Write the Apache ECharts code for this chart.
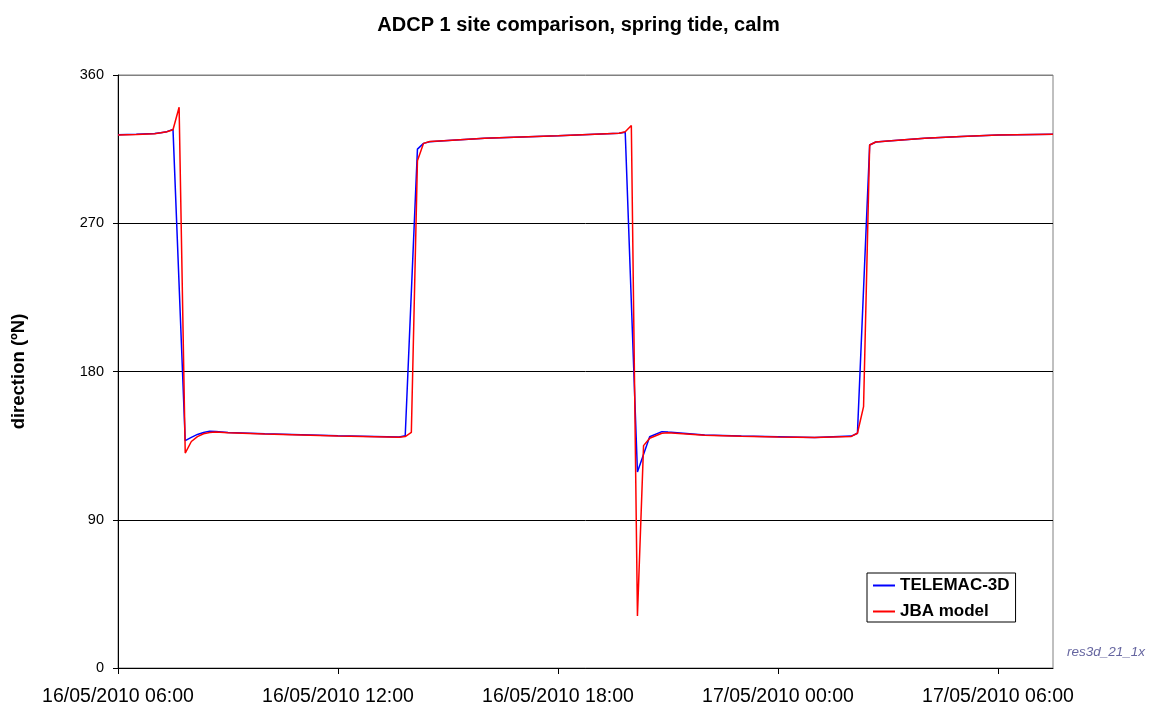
<!DOCTYPE html>
<html>
<head>
<meta charset="utf-8">
<title>ADCP 1 site comparison</title>
<script src="https://cdn.jsdelivr.net/npm/echarts@6/dist/echarts.min.js"></script>
<style>
  html, body { margin: 0; padding: 0; background: #fff; }
  #chart { width: 1157px; height: 711px; }
</style>
</head>
<body>
<div id="chart"></div>
<script>
// time of each reading (local clock) and direction in degrees N
var startTime = '2010-05-16 06:00';
var xTicks = [0, 6, 12, 18, 24]; // hours after start

var telemacTimes = [
  '2010-05-16 06:00', '2010-05-16 06:30', '2010-05-16 07:00', '2010-05-16 07:10', '2010-05-16 07:20',
  '2010-05-16 07:30', '2010-05-16 07:50', '2010-05-16 08:00', '2010-05-16 08:10', '2010-05-16 08:20',
  '2010-05-16 08:30', '2010-05-16 08:40', '2010-05-16 09:00', '2010-05-16 10:00', '2010-05-16 11:00',
  '2010-05-16 12:00', '2010-05-16 13:00', '2010-05-16 13:40', '2010-05-16 13:50', '2010-05-16 14:10',
  '2010-05-16 14:20', '2010-05-16 14:30', '2010-05-16 15:00', '2010-05-16 16:00', '2010-05-16 17:00',
  '2010-05-16 18:00', '2010-05-16 19:00', '2010-05-16 19:40', '2010-05-16 19:50', '2010-05-16 20:10',
  '2010-05-16 20:30', '2010-05-16 20:50', '2010-05-16 21:00', '2010-05-16 22:00', '2010-05-16 23:00',
  '2010-05-17 00:00', '2010-05-17 01:00', '2010-05-17 02:00', '2010-05-17 02:10', '2010-05-17 02:30',
  '2010-05-17 02:40', '2010-05-17 03:00', '2010-05-17 04:00', '2010-05-17 05:00', '2010-05-17 06:00',
  '2010-05-17 07:00', '2010-05-17 07:30'
];
var telemacDir = [
  323.8, 324.0, 324.5, 325.0, 325.6,
  327.0, 138.0, 140.0, 141.8, 143.0,
  143.8, 143.6, 143.0, 142.2, 141.6,
  141.0, 140.5, 140.2, 141.0, 315.0,
  318.5, 319.5, 320.3, 321.6, 322.4,
  323.1, 324.0, 324.6, 325.3, 119.0,
  140.4, 143.5, 143.2, 141.5, 140.8,
  140.4, 140.0, 140.8, 142.5, 317.5,
  319.3, 320.0, 321.6, 322.7, 323.5,
  323.9, 324.1
];

var jbaTimes = [
  '2010-05-16 06:00', '2010-05-16 06:30', '2010-05-16 07:00', '2010-05-16 07:10', '2010-05-16 07:20',
  '2010-05-16 07:30', '2010-05-16 07:40', '2010-05-16 07:50', '2010-05-16 08:00', '2010-05-16 08:10',
  '2010-05-16 08:20', '2010-05-16 08:30', '2010-05-16 08:40', '2010-05-16 09:00', '2010-05-16 10:00',
  '2010-05-16 11:00', '2010-05-16 12:00', '2010-05-16 13:00', '2010-05-16 13:40', '2010-05-16 13:50',
  '2010-05-16 14:00', '2010-05-16 14:10', '2010-05-16 14:20', '2010-05-16 14:30', '2010-05-16 15:00',
  '2010-05-16 16:00', '2010-05-16 17:00', '2010-05-16 18:00', '2010-05-16 19:00', '2010-05-16 19:40',
  '2010-05-16 19:50', '2010-05-16 20:00', '2010-05-16 20:10', '2010-05-16 20:20', '2010-05-16 20:30',
  '2010-05-16 20:50', '2010-05-16 21:00', '2010-05-16 22:00', '2010-05-16 23:00', '2010-05-17 00:00',
  '2010-05-17 01:00', '2010-05-17 02:00', '2010-05-17 02:10', '2010-05-17 02:20', '2010-05-17 02:30',
  '2010-05-17 02:40', '2010-05-17 03:00', '2010-05-17 04:00', '2010-05-17 05:00', '2010-05-17 06:00',
  '2010-05-17 07:00', '2010-05-17 07:30'
];
var jbaDir = [
  323.6, 323.9, 324.4, 324.9, 325.5,
  326.8, 340.4, 130.5, 137.5, 140.5,
  142.2, 143.0, 143.2, 142.8, 142.1,
  141.5, 140.9, 140.4, 140.1, 140.5,
  143.0, 308.0, 318.5, 319.6, 320.3,
  321.6, 322.4, 323.1, 324.0, 324.6,
  325.5, 329.3, 31.6, 135.0, 139.5,
  142.5, 142.8, 141.3, 140.7, 140.3,
  140.0, 140.6, 142.5, 158.7, 317.5,
  319.3, 320.0, 321.6, 322.7, 323.5,
  323.9, 324.1
];

function toDate(s) {
  return new Date(s.replace(' ', 'T') + ':00Z');
}
var t0 = toDate(startTime).getTime();
function hoursAfterStart(s) {
  return (toDate(s).getTime() - t0) / 3600000;
}
function pairs(times, vals) {
  return times.map(function (t, i) { return [hoursAfterStart(t), vals[i]]; });
}
function pad(n) { return (n < 10 ? '0' : '') + n; }
function tickLabel(h) {
  if (xTicks.indexOf(h) < 0) return '';
  var d = new Date(t0 + h * 3600000);
  return pad(d.getUTCDate()) + '/' + pad(d.getUTCMonth() + 1) + '/' + d.getUTCFullYear() +
    ' ' + pad(d.getUTCHours()) + ':' + pad(d.getUTCMinutes());
}

var font = '"Liberation Sans", Arial, sans-serif';
var chart = echarts.init(document.getElementById('chart'), null, { renderer: 'canvas' });

var option = {
  animation: false,
  backgroundColor: '#ffffff',
  title: {
    text: 'ADCP 1 site comparison, spring tide, calm',
    left: 'center',
    top: 10,
    textStyle: { fontFamily: font, fontSize: 20, fontWeight: 'bold', color: '#000' }
  },
  grid: {
    left: 118, right: 104, top: 75, bottom: 43,
    show: true, borderColor: '#808080', borderWidth: 1
  },
  legend: {
    orient: 'vertical',
    left: 867, top: 573,
    padding: [4, 6, 2, 6],
    itemGap: 9,
    itemWidth: 22,
    itemHeight: 2,
    icon: 'rect',
    backgroundColor: '#fff',
    borderColor: '#000',
    borderWidth: 1,
    borderRadius: 0,
    textStyle: { fontFamily: font, fontSize: 17, fontWeight: 'bold', color: '#000', lineHeight: 17 },
    data: ['TELEMAC-3D', 'JBA model']
  },
  xAxis: {
    type: 'value',
    min: 0,
    max: 25.5,
    interval: 6,
    axisLine: { lineStyle: { color: '#000', width: 1 } },
    axisTick: { show: true, length: 6, lineStyle: { color: '#000' } },
    axisLabel: {
      margin: 19,
      showMaxLabel: false,
      fontFamily: font, fontSize: 19.5, color: '#000',
      formatter: tickLabel
    },
    splitLine: { show: false }
  },
  yAxis: {
    type: 'value',
    min: 0,
    max: 360,
    interval: 90,
    name: 'direction (ºN)',
    nameLocation: 'middle',
    nameGap: 90,
    nameRotate: 90,
    nameTextStyle: { fontFamily: font, fontSize: 18.5, fontWeight: 'bold', color: '#000' },
    axisLine: { show: true, lineStyle: { color: '#000', width: 1 } },
    axisTick: { show: true, length: 5, lineStyle: { color: '#000' } },
    axisLabel: { margin: 14, fontFamily: font, fontSize: 14.5, color: '#000' },
    splitLine: { show: true, lineStyle: { color: ['#000', '#000', '#000', '#000', '#808080'], width: 1 } }
  },
  graphic: [{
    type: 'text',
    left: 1067,
    top: 645,
    style: {
      text: 'res3d_21_1x',
      font: 'italic 13.5px ' + font,
      fill: '#6666a0'
    }
  }],
  series: [
    {
      name: 'TELEMAC-3D',
      type: 'line',
      data: pairs(telemacTimes, telemacDir),
      showSymbol: false,
      symbol: 'none',
      color: '#0000ff',
      lineStyle: { color: '#0000ff', width: 1.5 }
    },
    {
      name: 'JBA model',
      type: 'line',
      data: pairs(jbaTimes, jbaDir),
      showSymbol: false,
      symbol: 'none',
      color: '#ff0000',
      lineStyle: { color: '#ff0000', width: 1.5 }
    }
  ]
};

chart.setOption(option);
</script>
</body>
</html>
